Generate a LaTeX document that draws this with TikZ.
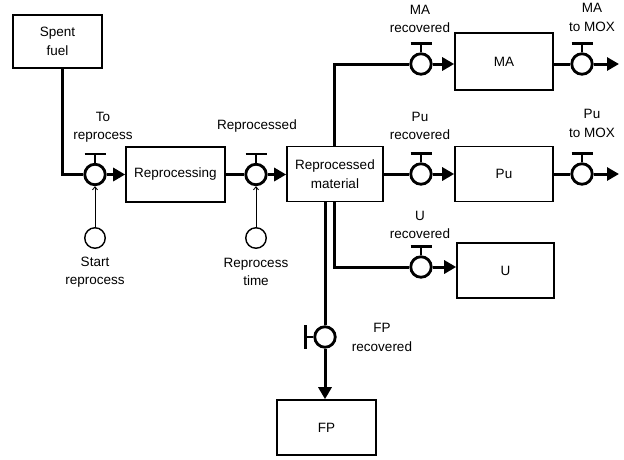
\documentclass[tikz,border=0pt]{standalone}
\usepackage{fontspec}
\setmainfont{Liberation Sans}
\usetikzlibrary{arrows.meta}
\tikzset{
  txt/.style={font=\fontsize{13.5}{18.5}\selectfont},
  box/.style={draw, line width=1.6pt, inner sep=0pt, align=center, txt},
  valve/.style={circle, draw, line width=2.8pt, minimum size=20.5pt, inner sep=0pt},
  aux/.style={circle, draw, line width=1.4pt, minimum size=20.5pt, inner sep=0pt},
  flow/.style={line width=3pt},
  flowarrow/.style={line width=3pt, -{Triangle[length=12pt,width=13pt]}},
  handle/.style={line width=2.6pt},
  info/.style={line width=0.9pt, -{Straight Barb[length=3pt,width=5pt]}},
  lbl/.style={align=center, inner sep=0pt, txt}
}
\begin{document}
\begin{tikzpicture}[x=1pt,y=-1pt]
\useasboundingbox (0,0) rectangle (624,459);
% boxes
\node[box, minimum width=89pt, minimum height=53pt] (sf) at (57.5,41.5) {Spent\\fuel};
\node[box, minimum width=99pt, minimum height=55pt] (rp) at (175.5,174.5) {Reprocessing};
\node[box, minimum width=96pt, minimum height=55pt] (rm) at (335,174) {Reprocessed\\material};
\node[box, minimum width=98pt, minimum height=57pt] (ma) at (504,61.5) {MA};
\node[box, minimum width=98pt, minimum height=55pt] (pu) at (504,174) {Pu};
\node[box, minimum width=97pt, minimum height=55pt] (u) at (505.5,270.5) {U};
\node[box, minimum width=99pt, minimum height=55pt] (fp) at (326.5,427.5) {FP};
% valves
\node[valve] (v1) at (95,174.5) {};
\node[valve] (v2) at (256,174.5) {};
\node[valve] (vma) at (421,64) {};
\node[valve] (vmamox) at (582,64) {};
\node[valve] (vpu) at (421,174) {};
\node[valve] (vpumox) at (582,174) {};
\node[valve] (vu) at (421,267) {};
\node[valve] (vfp) at (325,337) {};
% auxiliaries
\node[aux] (a1) at (95,238) {};
\node[aux] (a2) at (256,238) {};
% handles
\foreach \v in {v1,v2,vma,vmamox,vpu,vpumox,vu}
  \draw[handle] (\v.north) -- ++(0,-9) ++(-10.5,0) -- ++(21,0);
\draw[handle] (vfp.west) -- ++(-8,0) ++(0,-12) -- ++(0,24);
% flow coordinates
\coordinate (sfo) at (62,68);
\coordinate (man) at (334,146.5);
\coordinate (mab) at (334,64);
\coordinate (uo) at (334,201.5);
\coordinate (ub) at (334,267);
\coordinate (fpo) at (325,201.5);
\coordinate (vmoxe) at (619,64);
\coordinate (vpmoxe) at (619,174);
% flows
\draw[flow] (sfo) |- (v1.west);
\draw[flowarrow] (v1.east) -- (rp.west |- v1);
\draw[flow] (rp.east |- v2) -- (v2.west);
\draw[flowarrow] (v2.east) -- (rm.west |- v2);
\draw[flow] (man) -- (mab) -- (vma.west);
\draw[flowarrow] (vma.east) -- (ma.west |- vma);
\draw[flow] (ma.east |- vmamox) -- (vmamox.west);
\draw[flowarrow] (vmamox.east) -- (vmoxe);
\draw[flow] (rm.east |- vpu) -- (vpu.west);
\draw[flowarrow] (vpu.east) -- (pu.west |- vpu);
\draw[flow] (pu.east |- vpumox) -- (vpumox.west);
\draw[flowarrow] (vpumox.east) -- (vpmoxe);
\draw[flow] (uo) -- (ub) -- (vu.west);
\draw[flowarrow] (vu.east) -- (u.west |- vu);
\draw[flow] (fpo) -- (vfp.north);
\draw[flowarrow] (vfp.south) -- (fp.north -| vfp);
% info links
\draw[info] (a1.north) -- (v1.south);
\draw[info] (a2.north) -- (v2.south);
% labels
\node[lbl] (l1) at (103,127.5) {To\\reprocess};
\node[lbl] (l2) at (257,126) {Reprocessed};
\node[lbl] (l3) at (95,272) {Start\\reprocess};
\node[lbl] (l4) at (256,272) {Reprocess\\time};
\node[lbl] (l5) at (420,19) {MA\\recovered};
\node[lbl] (l6) at (592,17.5) {MA\\to MOX};
\node[lbl] (l7) at (420,126) {Pu\\recovered};
\node[lbl] (l8) at (592,123.5) {Pu\\to MOX};
\node[lbl] (l9) at (420,225) {U\\recovered};
\node[lbl] (l10) at (382,337.5) {FP\\recovered};
\end{tikzpicture}
\end{document}
